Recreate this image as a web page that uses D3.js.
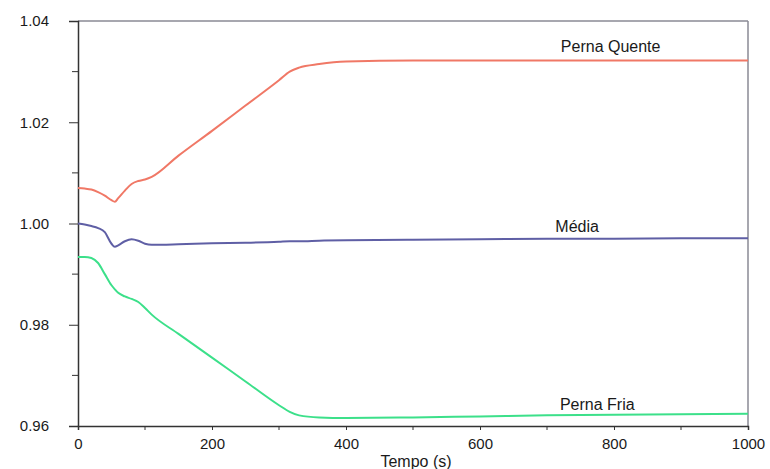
<!DOCTYPE html>
<html>
<head>
<meta charset="utf-8">
<script src="https://cdn.jsdelivr.net/npm/d3@7"></script>
<style>
  body { margin: 0; background: #fff; }
  text { font-family: "Liberation Sans", Arial, sans-serif; fill: #1a1a1a; }
</style>
</head>
<body>
<script>
// time grid (s)
var tempo = [0, 10, 20, 30, 40, 50, 55, 60, 70, 80, 90, 100, 110, 150, 200, 250, 300, 316, 330, 360, 400, 500, 600, 700, 800, 900, 1000];

// series values
var pernaQuente = [1.0070, 1.0069, 1.0067, 1.0062, 1.0055, 1.0046, 1.0043, 1.0050, 1.0065, 1.0078, 1.0084, 1.0087, 1.0092,
                   1.0134, 1.0183, 1.0233, 1.0283, 1.0300, 1.0308, 1.0315, 1.0320, 1.0322, 1.0322, 1.0322, 1.0322, 1.0322, 1.0322];
var media = [1.0000, 0.9998, 0.9995, 0.9991, 0.9983, 0.9960, 0.9954, 0.9957, 0.9965, 0.9969, 0.9966, 0.9960, 0.9958,
             0.9959, 0.9961, 0.9962, 0.9964, 0.9965, 0.9965, 0.9966, 0.9967, 0.9968, 0.9969, 0.9970, 0.9970, 0.9971, 0.9971];
var pernaFria = [0.9934, 0.9934, 0.9932, 0.9922, 0.9900, 0.9878, 0.9870, 0.9863, 0.9856, 0.9851, 0.9845, 0.9833, 0.9820,
                 0.9782, 0.9735, 0.9688, 0.9641, 0.9628, 0.9621, 0.9617, 0.9616, 0.9617, 0.9619, 0.9621, 0.9622, 0.9623, 0.9624];

var series = [
  {name: 'Perna Quente', values: pernaQuente, color: '#f07866', labelT: 795, labelV: 1.0339},
  {name: 'Média', values: media, color: '#5f5fa5', labelT: 745, labelV: 0.99833},
  {name: 'Perna Fria', values: pernaFria, color: '#3ce08a', labelT: 775, labelV: 0.96317}
];

var yTicks = [0.96, 0.98, 1.00, 1.02, 1.04];
var yMinor = [0.97, 0.99, 1.01, 1.03];
var xTicks = [0, 200, 400, 600, 800, 1000];
var xMinor = [100, 300, 500, 700, 900];

var W = 770, H = 469;
var svg = d3.select('body').append('svg')
            .attr('width', W)
            .attr('height', H);

var xScale = d3.scaleLinear().domain([0, 1000]).range([78, 748]);
var yScale = d3.scaleLinear().domain([0.96, 1.04]).range([426, 21]);

// frame top / right
svg.append('line')
   .attr('x1', xScale(0)).attr('x2', xScale(1000))
   .attr('y1', yScale(1.04)).attr('y2', yScale(1.04))
   .attr('stroke', '#8a8a94').attr('stroke-width', 1.5);
svg.append('line')
   .attr('x1', xScale(1000)).attr('x2', xScale(1000))
   .attr('y1', yScale(1.04)).attr('y2', yScale(0.96))
   .attr('stroke', '#8a8a94').attr('stroke-width', 1.5);

// axes
var yAxis = svg.append('g')
   .attr('transform', 'translate(' + xScale(0) + ',0)')
   .call(d3.axisLeft(yScale).tickValues(yTicks).tickSize(9).tickPadding(20)
          .tickFormat(function(d) { return d3.format('.2f')(d); }));
yAxis.append('g').selectAll('line')
   .data(yMinor)
   .enter().append('line')
   .attr('x1', -6).attr('x2', 0)
   .attr('y1', function(d) { return yScale(d); })
   .attr('y2', function(d) { return yScale(d); })
   .attr('stroke', '#333');

var xAxis = svg.append('g')
   .attr('transform', 'translate(0,' + yScale(0.96) + ')')
   .call(d3.axisBottom(xScale).tickValues(xTicks).tickSize(4).tickPadding(8)
          .tickFormat(d3.format('d')));
xAxis.append('g').selectAll('line')
   .data(xMinor)
   .enter().append('line')
   .attr('x1', function(d) { return xScale(d); })
   .attr('x2', function(d) { return xScale(d); })
   .attr('y1', 0).attr('y2', 4)
   .attr('stroke', '#333');

[yAxis, xAxis].forEach(function(ax) {
  ax.select('.domain').attr('stroke', '#333').attr('stroke-width', 1.5);
  ax.selectAll('.tick line').attr('stroke', '#333');
  ax.selectAll('.tick text')
    .style('font-family', '"Liberation Sans", Arial, sans-serif')
    .style('font-size', '15px')
    .style('fill', '#1a1a1a');
});

// lines
var line = d3.line()
  .x(function(d, i) { return xScale(tempo[i]); })
  .y(function(d) { return yScale(d); })
  .curve(d3.curveMonotoneX);

svg.selectAll('.serie')
   .data(series)
   .enter().append('path')
   .attr('class', 'serie')
   .attr('fill', 'none')
   .attr('stroke', function(d) { return d.color; })
   .attr('stroke-width', 2)
   .attr('d', function(d) { return line(d.values); });

svg.selectAll('.label')
   .data(series)
   .enter().append('text')
   .attr('class', 'label')
   .attr('x', function(d) { return xScale(d.labelT); })
   .attr('y', function(d) { return yScale(d.labelV); })
   .attr('text-anchor', 'middle')
   .style('font-size', '16px')
   .text(function(d) { return d.name; });

// axis title
svg.append('text')
   .attr('x', 416)
   .attr('y', 467)
   .attr('text-anchor', 'middle')
   .style('font-size', '16px')
   .text('Tempo (s)');
</script>
</body>
</html>
